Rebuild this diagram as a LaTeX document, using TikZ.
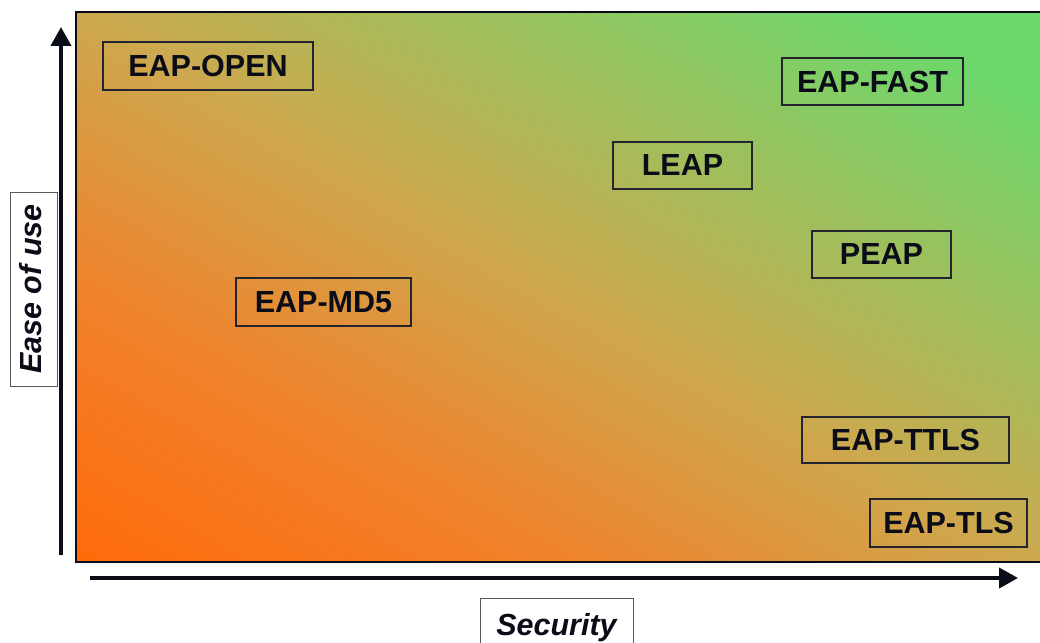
\documentclass[tikz,border=0pt]{standalone}
\usepackage{fontspec}
\setmainfont{Liberation Sans}
\usetikzlibrary{arrows.meta}
\definecolor{cOr}{RGB}{255,106,10}
\definecolor{cOr2}{RGB}{240,130,44}
\definecolor{cTan}{RGB}{205,168,78}
\definecolor{cGr}{RGB}{108,216,108}
\definecolor{ink}{RGB}{10,12,24}
% gradient along the diagonal of the panel: 25bp = lower-left corner, 75bp = upper-right corner
\pgfdeclarehorizontalshading{bggrad}{100bp}{color(0bp)=(cOr); color(25bp)=(cOr); color(37.5bp)=(cOr2); color(50bp)=(cTan); color(71bp)=(cGr); color(100bp)=(cGr)}
\tikzset{
  eapbox/.style={draw=ink!90, line width=1.5pt, inner sep=0pt, align=center,
    font=\fontsize{30.5}{36}\selectfont\bfseries, text=ink},
  axislabel/.style={draw=black!65, line width=1pt, fill=white, inner sep=0pt,
    font=\fontsize{30.5}{36}\selectfont\bfseries\itshape, text=ink,
    text height=22pt, text depth=7pt},
  axisarrow/.style={draw=ink, line width=4pt, -{Triangle[length=19pt,width=20pt]}}
}
\begin{document}
\begin{tikzpicture}[x=1pt,y=-1pt]
\useasboundingbox (0,0) rectangle (1040,642);
\clip (0,0) rectangle (1040,642);
% background gradient panel
\begin{scope}
  \clip (76,12) rectangle (1045,562);
  \begin{scope}[transform canvas={cm={9.64,5.5,5.5,-3.138,(76pt,-562pt)}}]
    \shade[shading=bggrad] (0pt,-115pt) rectangle (100pt,115pt);
  \end{scope}
\end{scope}
\draw[ink, line width=1.5pt] (1045,12) -- (76,12) -- (76,562) -- (1045,562);
% labels
\node[eapbox, minimum width=210, minimum height=48] (open) at (208,66) {EAP-OPEN};
\node[eapbox, minimum width=181, minimum height=47] (fast) at (872.5,81.5) {EAP-FAST};
\node[eapbox, minimum width=139, minimum height=47] (leap) at (682.5,165.5) {LEAP};
\node[eapbox, minimum width=139, minimum height=47] (peap) at (881.5,254.5) {PEAP};
\node[eapbox, minimum width=175, minimum height=48] (md5) at (323.5,302) {EAP-MD5};
\node[eapbox, minimum width=207, minimum height=46] (ttls) at (905.5,440) {EAP-TTLS};
\node[eapbox, minimum width=157, minimum height=48] (tls) at (948.5,523) {EAP-TLS};
% axes
\coordinate (ybot) at (61,555);
\coordinate (ytop) at (61,27);
\coordinate (xleft) at (90,578);
\coordinate (xright) at (1018,578);
\draw[axisarrow] (ybot) -- (ytop);
\draw[axisarrow] (xleft) -- (xright);
\node[axislabel, rotate=90, minimum width=194, minimum height=47] (ease) at (34,289) {Ease of use};
\node[axislabel, minimum width=153, minimum height=59] (sec) at (556.5,627.5) {Security};
\end{tikzpicture}
\end{document}
